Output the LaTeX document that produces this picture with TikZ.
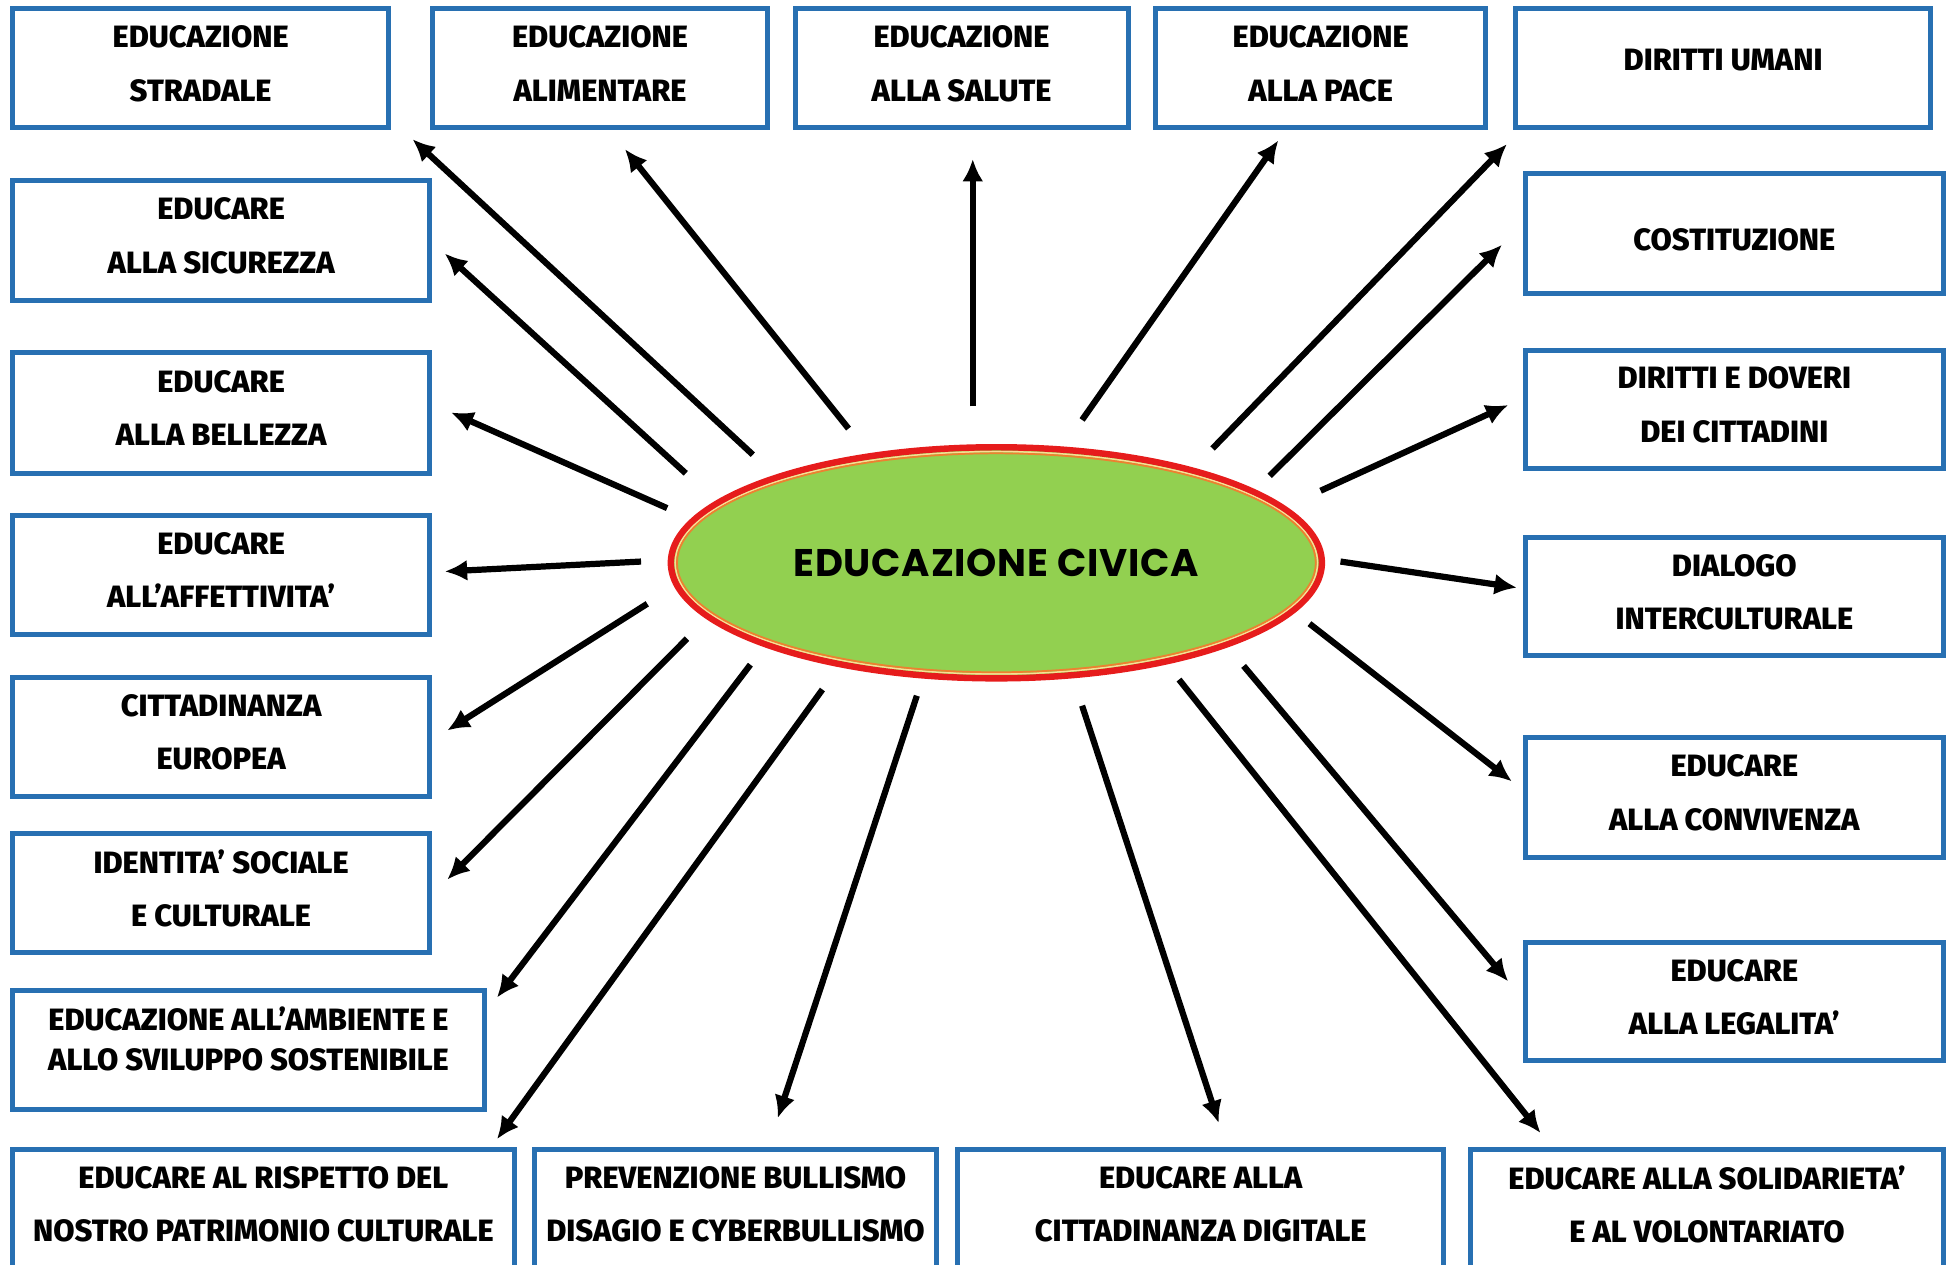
\documentclass[tikz,border=0pt]{standalone}
\usepackage{fontspec}
\setmainfont{Fira Sans}[BoldFont={Fira Sans ExtraBold}]
\newfontfamily\cfont{Poppins}[LetterSpace=2]
\usetikzlibrary{arrows.meta,shapes.geometric}
\definecolor{boxblue}{RGB}{40,112,178}
\definecolor{civgreen}{RGB}{146,208,80}
\definecolor{civred}{RGB}{230,28,28}
\definecolor{civorange}{RGB}{238,128,48}
\definecolor{civyellow}{RGB}{250,222,150}
\tikzset{
  box/.style={draw=boxblue, line width=2pt, fill=white, rectangle, inner sep=0pt,
    align=center, text depth=4pt, font=\fontsize{12.4pt}{21.5pt}\selectfont\bfseries},
  arr/.style={line width=2.5pt, -{Latex[length=9pt,width=8.5pt]}},
}
\newcommand\mkbox[7][]{\node[box,#1, minimum width={(#5-#3)*0.5pt}, minimum height={(#6-#4)*0.5pt}] (#2) at ({(#3+#5)/2},{(#4+#6)/2}) {#7};}
\begin{document}
\begin{tikzpicture}[x=0.5pt,y=-0.5pt]
\useasboundingbox (0,0) rectangle (1568,1018);
% top row
\mkbox{strad}{10}{7}{313}{103}{EDUCAZIONE\\STRADALE}
\mkbox{alim}{348}{7}{618}{103}{EDUCAZIONE\\ALIMENTARE}
\mkbox{salute}{640}{7}{908}{103}{EDUCAZIONE\\ALLA SALUTE}
\mkbox{pace}{930}{7}{1196}{103}{EDUCAZIONE\\ALLA PACE}
\mkbox[text depth=7pt]{umani}{1220}{7}{1554}{103}{DIRITTI UMANI}
% left column
\mkbox{sicur}{10}{145}{346}{242}{EDUCARE\\ALLA SICUREZZA}
\mkbox{bell}{10}{284}{346}{381}{EDUCARE\\ALLA BELLEZZA}
\mkbox{affet}{10}{415}{346}{511}{EDUCARE\\ALL’AFFETTIVITA’}
\mkbox{citt}{10}{545}{346}{641}{CITTADINANZA\\EUROPEA}
\mkbox{ident}{10}{671}{346}{767}{IDENTITA’ SOCIALE\\E CULTURALE}
\mkbox[text depth=9pt, font=\fontsize{12.4pt}{16pt}\selectfont\bfseries]{amb}{10}{797}{390}{893}{EDUCAZIONE ALL’AMBIENTE E\\ALLO SVILUPPO SOSTENIBILE}
% right column
\mkbox[text depth=0pt, text height=14pt]{cost}{1228}{140}{1564}{236}{COSTITUZIONE}
\mkbox{dov}{1228}{282}{1564}{377}{DIRITTI E DOVERI\\DEI CITTADINI}
\mkbox{dial}{1228}{433}{1564}{528}{DIALOGO\\INTERCULTURALE}
\mkbox{conv}{1228}{594}{1564}{690}{EDUCARE\\ALLA CONVIVENZA}
\mkbox{leg}{1228}{759}{1564}{854}{EDUCARE\\ALLA LEGALITA’}
% bottom row
\mkbox{patr}{10}{925}{414}{1021}{EDUCARE AL RISPETTO DEL\\NOSTRO PATRIMONIO CULTURALE}
\mkbox{prev}{430}{925}{754}{1021}{PREVENZIONE BULLISMO\\DISAGIO E CYBERBULLISMO}
\mkbox{dig}{771}{925}{1162}{1021}{EDUCARE ALLA\\CITTADINANZA DIGITALE}
\mkbox{sol}{1184}{925}{1564}{1021}{EDUCARE ALLA SOLIDARIETA’\\E AL VOLONTARIATO}
% centre
\node[ellipse, inner sep=0pt, minimum width={524*0.5pt}, minimum height={186*0.5pt},
  fill=civgreen, draw=civred, line width=2.6pt,
  font=\cfont\bfseries\fontsize{15.5pt}{18pt}\selectfont] (civ) at (802,453) {EDUCAZIONE CIVICA};
\draw[civyellow, line width=0.6pt] (civ.center) ellipse [x radius=258.5, y radius=89.5];
\draw[civorange, line width=0.7pt] (civ.center) ellipse [x radius=257.1, y radius=88.1];
% arrow ends
\coordinate (s1) at (606,366);  \coordinate (t1) at (332,112);
\coordinate (s2) at (683,345);  \coordinate (t2) at (503,120);
\coordinate (s3) at (783,327);  \coordinate (t3) at (783,128);
\coordinate (s4) at (871,338);  \coordinate (t4) at (1029,113);
\coordinate (s5) at (976,361);  \coordinate (t5) at (1213,116);
\coordinate (s6) at (1022,383); \coordinate (t6) at (1209,197);
\coordinate (s7) at (1063,395); \coordinate (t7) at (1214,326);
\coordinate (s8) at (1079,452); \coordinate (t8) at (1221,473);
\coordinate (s9) at (1054,502); \coordinate (t9) at (1217,629);
\coordinate (s10) at (1001,536); \coordinate (t10) at (1214,790);
\coordinate (s11) at (949,547);  \coordinate (t11) at (1240,912);
\coordinate (s12) at (871,568);  \coordinate (t12) at (981,904);
\coordinate (s13) at (738,560);  \coordinate (t13) at (626,900);
\coordinate (s14) at (662,555);  \coordinate (t14) at (400,917);
\coordinate (s15) at (604,535);  \coordinate (t15) at (400,803);
\coordinate (s16) at (553,514);  \coordinate (t16) at (360,708);
\coordinate (s17) at (521,486);  \coordinate (t17) at (360,588);
\coordinate (s18) at (516,452);  \coordinate (t18) at (358,460);
\coordinate (s19) at (537,409);  \coordinate (t19) at (363,332);
\coordinate (s20) at (552,381);  \coordinate (t20) at (358,204);
\foreach \i in {1,...,20} {\draw[arr] (s\i) -- (t\i);}
\end{tikzpicture}
\end{document}
